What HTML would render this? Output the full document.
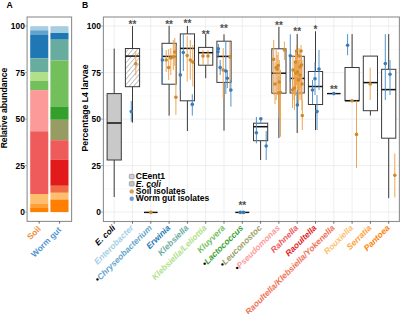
<!DOCTYPE html>
<html><head><meta charset="utf-8"><style>
html,body{margin:0;padding:0;background:#fff;overflow:hidden;width:400px;height:314px;}
svg{display:block;font-family:"Liberation Sans", sans-serif;}
</style></head><body>
<svg width="400" height="314" viewBox="0 0 400 314">
<rect width="400" height="314" fill="#fff"/>
<text x="6.5" y="7.6" font-size="8.6" font-weight="bold">A</text>
<text transform="translate(6.6,108) rotate(-90)" text-anchor="middle" font-size="8.6" font-weight="bold">Relative abundance</text>
<text x="24.8" y="215.10" text-anchor="end" font-size="8.4" font-weight="bold">0</text>
<line x1="25" y1="212.10" x2="27" y2="212.10" stroke="#777" stroke-width="0.6"/>
<text x="24.8" y="168.60" text-anchor="end" font-size="8.4" font-weight="bold">25</text>
<line x1="25" y1="165.60" x2="27" y2="165.60" stroke="#777" stroke-width="0.6"/>
<text x="24.8" y="122.10" text-anchor="end" font-size="8.4" font-weight="bold">50</text>
<line x1="25" y1="119.10" x2="27" y2="119.10" stroke="#777" stroke-width="0.6"/>
<text x="24.8" y="75.60" text-anchor="end" font-size="8.4" font-weight="bold">75</text>
<line x1="25" y1="72.60" x2="27" y2="72.60" stroke="#777" stroke-width="0.6"/>
<text x="24.8" y="29.10" text-anchor="end" font-size="8.4" font-weight="bold">100</text>
<line x1="25" y1="26.10" x2="27" y2="26.10" stroke="#777" stroke-width="0.6"/>
<rect x="30.2" y="26.2" width="18.1" height="4.10" fill="#a6cee3"/>
<rect x="30.2" y="30.3" width="18.1" height="4.70" fill="#62a3cb"/>
<rect x="30.2" y="35.0" width="18.1" height="23.30" fill="#1f78b4"/>
<rect x="30.2" y="58.3" width="18.1" height="13.70" fill="#68ab9f"/>
<rect x="30.2" y="72.0" width="18.1" height="9.00" fill="#b2df8a"/>
<rect x="30.2" y="81.0" width="18.1" height="9.10" fill="#72bf5b"/>
<rect x="30.2" y="90.1" width="18.1" height="41.20" fill="#fb9a99"/>
<rect x="30.2" y="131.3" width="18.1" height="62.70" fill="#ef5a5a"/>
<rect x="30.2" y="194.0" width="18.1" height="10.00" fill="#fdbf6f"/>
<rect x="30.2" y="204.0" width="18.1" height="4.00" fill="#fe9f37"/>
<rect x="30.2" y="208.0" width="18.1" height="4.10" fill="#ff7f00"/>
<rect x="50.4" y="26.2" width="18.1" height="6.80" fill="#a6cee3"/>
<rect x="50.4" y="33.0" width="18.1" height="6.70" fill="#1f78b4"/>
<rect x="50.4" y="39.7" width="18.1" height="20.70" fill="#68ab9f"/>
<rect x="50.4" y="60.4" width="18.1" height="46.10" fill="#72bf5b"/>
<rect x="50.4" y="106.5" width="18.1" height="13.30" fill="#33a02c"/>
<rect x="50.4" y="119.8" width="18.1" height="20.40" fill="#979d62"/>
<rect x="50.4" y="140.2" width="18.1" height="19.60" fill="#ef5a5a"/>
<rect x="50.4" y="159.8" width="18.1" height="26.00" fill="#e31a1c"/>
<rect x="50.4" y="185.8" width="18.1" height="7.00" fill="#f06c45"/>
<rect x="50.4" y="192.8" width="18.1" height="6.70" fill="#fdbf6f"/>
<rect x="50.4" y="199.5" width="18.1" height="12.60" fill="#ff7f00"/>
<rect x="27.1" y="17" width="44.5" height="204.4" fill="none" stroke="#8f8f8f" stroke-width="1.1"/>
<line x1="39.2" y1="221.4" x2="39.2" y2="223.6" stroke="#444" stroke-width="0.8"/>
<line x1="59.6" y1="221.4" x2="59.6" y2="223.6" stroke="#444" stroke-width="0.8"/>
<text transform="translate(41.3,229.6) rotate(-45)" text-anchor="end" font-size="8.3" font-weight="bold" fill="#ec8d38">Soil</text>
<text transform="translate(61.8,230.4) rotate(-45)" text-anchor="end" font-size="8.3" font-weight="bold" fill="#4f95d0">Worm gut</text>
<text x="82" y="7.6" font-size="8.6" font-weight="bold">B</text>
<text transform="translate(87.9,108) rotate(-90)" text-anchor="middle" font-size="8.7" font-weight="bold">Percentage L4 larvae</text>
<line x1="103.4" y1="188.85" x2="399.4" y2="188.85" stroke="#f2f2f2" stroke-width="0.5"/>
<line x1="103.4" y1="142.35" x2="399.4" y2="142.35" stroke="#f2f2f2" stroke-width="0.5"/>
<line x1="103.4" y1="95.85" x2="399.4" y2="95.85" stroke="#f2f2f2" stroke-width="0.5"/>
<line x1="103.4" y1="49.35" x2="399.4" y2="49.35" stroke="#f2f2f2" stroke-width="0.5"/>
<line x1="103.4" y1="212.10" x2="399.4" y2="212.10" stroke="#e8e8e8" stroke-width="0.7"/>
<line x1="103.4" y1="165.60" x2="399.4" y2="165.60" stroke="#e8e8e8" stroke-width="0.7"/>
<line x1="103.4" y1="119.10" x2="399.4" y2="119.10" stroke="#e8e8e8" stroke-width="0.7"/>
<line x1="103.4" y1="72.60" x2="399.4" y2="72.60" stroke="#e8e8e8" stroke-width="0.7"/>
<line x1="103.4" y1="26.10" x2="399.4" y2="26.10" stroke="#e8e8e8" stroke-width="0.7"/>
<line x1="114.20" y1="17" x2="114.20" y2="221.5" stroke="#e8e8e8" stroke-width="0.7"/>
<line x1="132.50" y1="17" x2="132.50" y2="221.5" stroke="#e8e8e8" stroke-width="0.7"/>
<line x1="150.80" y1="17" x2="150.80" y2="221.5" stroke="#e8e8e8" stroke-width="0.7"/>
<line x1="169.10" y1="17" x2="169.10" y2="221.5" stroke="#e8e8e8" stroke-width="0.7"/>
<line x1="187.40" y1="17" x2="187.40" y2="221.5" stroke="#e8e8e8" stroke-width="0.7"/>
<line x1="205.70" y1="17" x2="205.70" y2="221.5" stroke="#e8e8e8" stroke-width="0.7"/>
<line x1="224.00" y1="17" x2="224.00" y2="221.5" stroke="#e8e8e8" stroke-width="0.7"/>
<line x1="242.30" y1="17" x2="242.30" y2="221.5" stroke="#e8e8e8" stroke-width="0.7"/>
<line x1="260.60" y1="17" x2="260.60" y2="221.5" stroke="#e8e8e8" stroke-width="0.7"/>
<line x1="278.90" y1="17" x2="278.90" y2="221.5" stroke="#e8e8e8" stroke-width="0.7"/>
<line x1="297.20" y1="17" x2="297.20" y2="221.5" stroke="#e8e8e8" stroke-width="0.7"/>
<line x1="315.50" y1="17" x2="315.50" y2="221.5" stroke="#e8e8e8" stroke-width="0.7"/>
<line x1="333.80" y1="17" x2="333.80" y2="221.5" stroke="#e8e8e8" stroke-width="0.7"/>
<line x1="352.10" y1="17" x2="352.10" y2="221.5" stroke="#e8e8e8" stroke-width="0.7"/>
<line x1="370.40" y1="17" x2="370.40" y2="221.5" stroke="#e8e8e8" stroke-width="0.7"/>
<line x1="388.70" y1="17" x2="388.70" y2="221.5" stroke="#e8e8e8" stroke-width="0.7"/>
<text x="100.8" y="215.10" text-anchor="end" font-size="8.4" font-weight="bold">0</text>
<line x1="101" y1="212.10" x2="103" y2="212.10" stroke="#777" stroke-width="0.6"/>
<text x="100.8" y="168.60" text-anchor="end" font-size="8.4" font-weight="bold">25</text>
<line x1="101" y1="165.60" x2="103" y2="165.60" stroke="#777" stroke-width="0.6"/>
<text x="100.8" y="122.10" text-anchor="end" font-size="8.4" font-weight="bold">50</text>
<line x1="101" y1="119.10" x2="103" y2="119.10" stroke="#777" stroke-width="0.6"/>
<text x="100.8" y="75.60" text-anchor="end" font-size="8.4" font-weight="bold">75</text>
<line x1="101" y1="72.60" x2="103" y2="72.60" stroke="#777" stroke-width="0.6"/>
<text x="100.8" y="29.10" text-anchor="end" font-size="8.4" font-weight="bold">100</text>
<line x1="101" y1="26.10" x2="103" y2="26.10" stroke="#777" stroke-width="0.6"/>
<defs><pattern id="hatch" patternUnits="userSpaceOnUse" width="3.5" height="5" patternTransform="rotate(40)"><line x1="0" y1="0" x2="0" y2="5" stroke="#4a4a4a" stroke-width="0.7"/></pattern></defs>
<line x1="114.20" y1="48.6" x2="114.20" y2="93.6" stroke="#3a3a3a" stroke-width="1.0"/>
<line x1="114.20" y1="160.0" x2="114.20" y2="197.0" stroke="#3a3a3a" stroke-width="1.0"/>
<rect x="107.10" y="93.6" width="14.2" height="66.40" fill="#c9c9c9" stroke="#3a3a3a" stroke-width="1.0"/>
<line x1="107.10" y1="123.0" x2="121.30" y2="123.0" stroke="#111" stroke-width="1.5"/>
<line x1="132.50" y1="26.1" x2="132.50" y2="48.5" stroke="#3a3a3a" stroke-width="1.0"/>
<line x1="132.50" y1="86.7" x2="132.50" y2="122.6" stroke="#3a3a3a" stroke-width="1.0"/>
<rect x="125.40" y="48.5" width="14.2" height="38.20" fill="#fff" stroke="#3a3a3a" stroke-width="1.0"/>
<rect x="125.40" y="48.5" width="14.2" height="38.20" fill="url(#hatch)"/>
<line x1="125.40" y1="56.1" x2="139.60" y2="56.1" stroke="#111" stroke-width="1.5"/>
<text x="132.50" y="28.40" text-anchor="middle" font-size="10" font-weight="bold" fill="#505050">**</text>
<line x1="144.00" y1="212.4" x2="157.60" y2="212.4" stroke="#111" stroke-width="1.4"/>
<line x1="169.10" y1="25.8" x2="169.10" y2="43.3" stroke="#3a3a3a" stroke-width="1.0"/>
<line x1="169.10" y1="84.2" x2="169.10" y2="115.6" stroke="#3a3a3a" stroke-width="1.0"/>
<rect x="162.00" y="43.3" width="14.2" height="40.90" fill="#fff" stroke="#3a3a3a" stroke-width="1.0"/>
<line x1="162.00" y1="56.4" x2="176.20" y2="56.4" stroke="#111" stroke-width="1.5"/>
<text x="169.10" y="28.40" text-anchor="middle" font-size="10" font-weight="bold" fill="#505050">**</text>
<line x1="187.40" y1="26.0" x2="187.40" y2="33.9" stroke="#3a3a3a" stroke-width="1.0"/>
<line x1="187.40" y1="100.8" x2="187.40" y2="131.0" stroke="#3a3a3a" stroke-width="1.0"/>
<rect x="180.30" y="33.9" width="14.2" height="66.90" fill="#fff" stroke="#3a3a3a" stroke-width="1.0"/>
<line x1="180.30" y1="48.4" x2="194.50" y2="48.4" stroke="#111" stroke-width="1.5"/>
<text x="187.40" y="27.40" text-anchor="middle" font-size="10" font-weight="bold" fill="#505050">**</text>
<line x1="205.70" y1="34.1" x2="205.70" y2="47.4" stroke="#3a3a3a" stroke-width="1.0"/>
<line x1="205.70" y1="65.2" x2="205.70" y2="78.2" stroke="#3a3a3a" stroke-width="1.0"/>
<rect x="198.60" y="47.4" width="14.2" height="17.80" fill="#fff" stroke="#3a3a3a" stroke-width="1.0"/>
<line x1="198.60" y1="52.7" x2="212.80" y2="52.7" stroke="#111" stroke-width="1.5"/>
<text x="205.70" y="37.60" text-anchor="middle" font-size="10" font-weight="bold" fill="#505050">**</text>
<line x1="224.00" y1="34.4" x2="224.00" y2="41.2" stroke="#3a3a3a" stroke-width="1.0"/>
<line x1="224.00" y1="82.4" x2="224.00" y2="130.7" stroke="#3a3a3a" stroke-width="1.0"/>
<rect x="216.90" y="41.2" width="14.2" height="41.20" fill="#fff" stroke="#3a3a3a" stroke-width="1.0"/>
<line x1="216.90" y1="56.4" x2="231.10" y2="56.4" stroke="#111" stroke-width="1.5"/>
<text x="224.00" y="32.30" text-anchor="middle" font-size="10" font-weight="bold" fill="#505050">**</text>
<line x1="235.30" y1="212.4" x2="249.30" y2="212.4" stroke="#111" stroke-width="1.4"/>
<text x="242.30" y="209.40" text-anchor="middle" font-size="10" font-weight="bold" fill="#505050">**</text>
<line x1="260.60" y1="140.7" x2="260.60" y2="160.0" stroke="#3a3a3a" stroke-width="1.0"/>
<rect x="253.50" y="123.2" width="14.2" height="17.50" fill="#fff" stroke="#3a3a3a" stroke-width="1.0"/>
<line x1="253.50" y1="126.7" x2="267.70" y2="126.7" stroke="#111" stroke-width="1.5"/>
<line x1="278.90" y1="26.9" x2="278.90" y2="48.8" stroke="#3a3a3a" stroke-width="1.0"/>
<line x1="278.90" y1="93.2" x2="278.90" y2="137.9" stroke="#3a3a3a" stroke-width="1.0"/>
<rect x="271.80" y="48.8" width="14.2" height="44.40" fill="#fff" stroke="#3a3a3a" stroke-width="1.0"/>
<line x1="271.80" y1="73.2" x2="286.00" y2="73.2" stroke="#111" stroke-width="1.5"/>
<text x="278.90" y="29.20" text-anchor="middle" font-size="10" font-weight="bold" fill="#505050">**</text>
<line x1="297.20" y1="34.0" x2="297.20" y2="56.3" stroke="#3a3a3a" stroke-width="1.0"/>
<line x1="297.20" y1="93.0" x2="297.20" y2="133.0" stroke="#3a3a3a" stroke-width="1.0"/>
<rect x="290.10" y="56.3" width="14.2" height="36.70" fill="#fff" stroke="#3a3a3a" stroke-width="1.0"/>
<line x1="290.10" y1="78.4" x2="304.30" y2="78.4" stroke="#111" stroke-width="1.5"/>
<text x="297.20" y="35.00" text-anchor="middle" font-size="10" font-weight="bold" fill="#505050">**</text>
<line x1="315.50" y1="31.3" x2="315.50" y2="71.5" stroke="#3a3a3a" stroke-width="1.0"/>
<line x1="315.50" y1="104.5" x2="315.50" y2="130.0" stroke="#3a3a3a" stroke-width="1.0"/>
<rect x="308.40" y="71.5" width="14.2" height="33.00" fill="#fff" stroke="#3a3a3a" stroke-width="1.0"/>
<line x1="308.40" y1="86.5" x2="322.60" y2="86.5" stroke="#111" stroke-width="1.5"/>
<text x="315.50" y="33.10" text-anchor="middle" font-size="10" font-weight="bold" fill="#505050">*</text>
<line x1="327.00" y1="93.6" x2="340.60" y2="93.6" stroke="#111" stroke-width="1.4"/>
<text x="333.80" y="92.90" text-anchor="middle" font-size="10" font-weight="bold" fill="#505050">**</text>
<line x1="352.10" y1="34.1" x2="352.10" y2="67.5" stroke="#3a3a3a" stroke-width="1.0"/>
<rect x="345.00" y="67.5" width="14.2" height="33.20" fill="#fff" stroke="#3a3a3a" stroke-width="1.0"/>
<line x1="345.00" y1="100.7" x2="359.20" y2="100.7" stroke="#111" stroke-width="1.5"/>
<line x1="370.40" y1="110.7" x2="370.40" y2="115.5" stroke="#3a3a3a" stroke-width="1.0"/>
<rect x="363.30" y="56.1" width="14.2" height="54.60" fill="#fff" stroke="#3a3a3a" stroke-width="1.0"/>
<line x1="363.30" y1="82.6" x2="377.50" y2="82.6" stroke="#111" stroke-width="1.5"/>
<line x1="388.70" y1="34.1" x2="388.70" y2="69.3" stroke="#3a3a3a" stroke-width="1.0"/>
<line x1="388.70" y1="138.2" x2="388.70" y2="198.2" stroke="#3a3a3a" stroke-width="1.0"/>
<rect x="381.60" y="69.3" width="14.2" height="68.90" fill="#fff" stroke="#3a3a3a" stroke-width="1.0"/>
<line x1="381.60" y1="89.6" x2="395.80" y2="89.6" stroke="#111" stroke-width="1.5"/>
<line x1="135.8" y1="51.4" x2="135.8" y2="75.3" stroke="#eba24e" stroke-width="0.95"/>
<line x1="131.3" y1="101" x2="131.3" y2="121.8" stroke="#4b8cc6" stroke-width="0.95"/>
<line x1="162.4" y1="48" x2="162.4" y2="84" stroke="#4b8cc6" stroke-width="0.95"/>
<line x1="166.2" y1="50" x2="166.2" y2="72" stroke="#eba24e" stroke-width="0.95"/>
<line x1="168.7" y1="49" x2="168.7" y2="80" stroke="#eba24e" stroke-width="0.95"/>
<line x1="170.8" y1="48" x2="170.8" y2="75" stroke="#eba24e" stroke-width="0.95"/>
<line x1="173.3" y1="40" x2="173.3" y2="70" stroke="#eba24e" stroke-width="0.95"/>
<line x1="174.8" y1="38" x2="174.8" y2="66" stroke="#eba24e" stroke-width="0.95"/>
<line x1="175.9" y1="46" x2="175.9" y2="114.8" stroke="#eba24e" stroke-width="0.95"/>
<line x1="183.3" y1="34" x2="183.3" y2="71" stroke="#4b8cc6" stroke-width="0.95"/>
<line x1="180.3" y1="50" x2="180.3" y2="90" stroke="#4b8cc6" stroke-width="0.95"/>
<line x1="187.2" y1="36" x2="187.2" y2="81.5" stroke="#eba24e" stroke-width="0.95"/>
<line x1="190.3" y1="40" x2="190.3" y2="79.5" stroke="#eba24e" stroke-width="0.95"/>
<line x1="192.8" y1="45" x2="192.8" y2="86.6" stroke="#eba24e" stroke-width="0.95"/>
<line x1="192.3" y1="94.2" x2="192.3" y2="115.6" stroke="#4b8cc6" stroke-width="0.95"/>
<line x1="203.0" y1="50" x2="203.0" y2="65" stroke="#eba24e" stroke-width="0.95"/>
<line x1="208.0" y1="50" x2="208.0" y2="65" stroke="#eba24e" stroke-width="0.95"/>
<line x1="223.2" y1="48" x2="223.2" y2="98" stroke="#eba24e" stroke-width="0.95"/>
<line x1="229.9" y1="42" x2="229.9" y2="92" stroke="#eba24e" stroke-width="0.95"/>
<line x1="218.4" y1="44" x2="218.4" y2="56" stroke="#4b8cc6" stroke-width="0.95"/>
<line x1="218.0" y1="47" x2="218.0" y2="58" stroke="#4b8cc6" stroke-width="0.95"/>
<line x1="225.8" y1="41" x2="225.8" y2="94" stroke="#4b8cc6" stroke-width="0.95"/>
<line x1="220.2" y1="60" x2="220.2" y2="75" stroke="#4b8cc6" stroke-width="0.95"/>
<line x1="227.3" y1="70" x2="227.3" y2="88" stroke="#4b8cc6" stroke-width="0.95"/>
<line x1="230.9" y1="80" x2="230.9" y2="106.6" stroke="#4b8cc6" stroke-width="0.95"/>
<line x1="256.4" y1="117" x2="256.4" y2="143.3" stroke="#4b8cc6" stroke-width="0.95"/>
<line x1="260.8" y1="118" x2="260.8" y2="124" stroke="#4b8cc6" stroke-width="0.95"/>
<line x1="266.2" y1="131" x2="266.2" y2="160" stroke="#4b8cc6" stroke-width="0.95"/>
<line x1="273.7" y1="40" x2="273.7" y2="95" stroke="#eba24e" stroke-width="0.95"/>
<line x1="276.2" y1="50" x2="276.2" y2="100" stroke="#eba24e" stroke-width="0.95"/>
<line x1="277.2" y1="55" x2="277.2" y2="95" stroke="#eba24e" stroke-width="0.95"/>
<line x1="278.2" y1="52" x2="278.2" y2="90" stroke="#eba24e" stroke-width="0.95"/>
<line x1="279.3" y1="60" x2="279.3" y2="110" stroke="#eba24e" stroke-width="0.95"/>
<line x1="280.5" y1="70" x2="280.5" y2="136.7" stroke="#eba24e" stroke-width="0.95"/>
<line x1="284.4" y1="41.6" x2="284.4" y2="60" stroke="#eba24e" stroke-width="0.95"/>
<line x1="275.0" y1="62" x2="275.0" y2="104" stroke="#eba24e" stroke-width="0.95"/>
<line x1="278.8" y1="76" x2="278.8" y2="118" stroke="#eba24e" stroke-width="0.95"/>
<line x1="290.3" y1="34.3" x2="290.3" y2="82" stroke="#4b8cc6" stroke-width="0.95"/>
<line x1="293.0" y1="55" x2="293.0" y2="100" stroke="#eba24e" stroke-width="0.95"/>
<line x1="294.5" y1="62" x2="294.5" y2="110" stroke="#eba24e" stroke-width="0.95"/>
<line x1="295.5" y1="50" x2="295.5" y2="95" stroke="#eba24e" stroke-width="0.95"/>
<line x1="296.5" y1="45" x2="296.5" y2="85" stroke="#eba24e" stroke-width="0.95"/>
<line x1="297.5" y1="55" x2="297.5" y2="100" stroke="#eba24e" stroke-width="0.95"/>
<line x1="298.5" y1="60" x2="298.5" y2="105" stroke="#eba24e" stroke-width="0.95"/>
<line x1="299.0" y1="48" x2="299.0" y2="90" stroke="#eba24e" stroke-width="0.95"/>
<line x1="300.0" y1="50" x2="300.0" y2="95" stroke="#eba24e" stroke-width="0.95"/>
<line x1="301.0" y1="45" x2="301.0" y2="88" stroke="#eba24e" stroke-width="0.95"/>
<line x1="301.5" y1="55" x2="301.5" y2="100" stroke="#eba24e" stroke-width="0.95"/>
<line x1="302.0" y1="60" x2="302.0" y2="110" stroke="#eba24e" stroke-width="0.95"/>
<line x1="300.0" y1="60" x2="300.0" y2="100" stroke="#eba24e" stroke-width="0.95"/>
<line x1="292.5" y1="70" x2="292.5" y2="108" stroke="#eba24e" stroke-width="0.95"/>
<line x1="296.0" y1="58" x2="296.0" y2="96" stroke="#eba24e" stroke-width="0.95"/>
<line x1="297.4" y1="90" x2="297.4" y2="120" stroke="#4b8cc6" stroke-width="0.95"/>
<line x1="302.3" y1="100" x2="302.3" y2="130" stroke="#eba24e" stroke-width="0.95"/>
<line x1="319.0" y1="50" x2="319.0" y2="90" stroke="#4b8cc6" stroke-width="0.95"/>
<line x1="315.0" y1="62" x2="315.0" y2="95" stroke="#4b8cc6" stroke-width="0.95"/>
<line x1="312.5" y1="80" x2="312.5" y2="104" stroke="#4b8cc6" stroke-width="0.95"/>
<line x1="317.0" y1="95" x2="317.0" y2="130" stroke="#4b8cc6" stroke-width="0.95"/>
<line x1="347.6" y1="34.1" x2="347.6" y2="55.2" stroke="#4b8cc6" stroke-width="0.95"/>
<line x1="356.5" y1="100.7" x2="356.5" y2="168" stroke="#eba24e" stroke-width="0.95"/>
<line x1="370.2" y1="67.6" x2="370.2" y2="100" stroke="#eba24e" stroke-width="0.95"/>
<line x1="385.3" y1="34.1" x2="385.3" y2="100" stroke="#4b8cc6" stroke-width="0.95"/>
<line x1="390.0" y1="60" x2="390.0" y2="95" stroke="#4b8cc6" stroke-width="0.95"/>
<line x1="394.8" y1="153.5" x2="394.8" y2="197.4" stroke="#eba24e" stroke-width="0.95"/>
<circle cx="135.8" cy="63.8" r="1.8" fill="#d08a2c"/>
<circle cx="131.3" cy="111.5" r="1.8" fill="#3a7cb8"/>
<circle cx="150.8" cy="212.4" r="1.8" fill="#d08a2c"/>
<circle cx="162.4" cy="60" r="1.8" fill="#3a7cb8"/>
<circle cx="166.2" cy="60" r="1.8" fill="#d08a2c"/>
<circle cx="168.7" cy="67.6" r="1.8" fill="#d08a2c"/>
<circle cx="170.8" cy="58" r="1.8" fill="#d08a2c"/>
<circle cx="173.3" cy="57" r="1.8" fill="#d08a2c"/>
<circle cx="174.8" cy="52" r="1.8" fill="#d08a2c"/>
<circle cx="175.9" cy="97.3" r="1.8" fill="#d08a2c"/>
<circle cx="183.3" cy="52.5" r="1.8" fill="#3a7cb8"/>
<circle cx="180.3" cy="74.9" r="1.8" fill="#3a7cb8"/>
<circle cx="187.2" cy="55.6" r="1.8" fill="#d08a2c"/>
<circle cx="190.3" cy="60" r="1.8" fill="#d08a2c"/>
<circle cx="192.8" cy="62.1" r="1.8" fill="#d08a2c"/>
<circle cx="192.3" cy="104.4" r="1.8" fill="#3a7cb8"/>
<circle cx="203.0" cy="56.0" r="1.8" fill="#d08a2c"/>
<circle cx="208.0" cy="56.0" r="1.8" fill="#d08a2c"/>
<circle cx="223.2" cy="70" r="1.8" fill="#d08a2c"/>
<circle cx="229.9" cy="57" r="1.8" fill="#d08a2c"/>
<circle cx="218.4" cy="48.8" r="1.8" fill="#3a7cb8"/>
<circle cx="218.0" cy="51.8" r="1.8" fill="#3a7cb8"/>
<circle cx="225.8" cy="71.1" r="1.8" fill="#3a7cb8"/>
<circle cx="220.2" cy="67.6" r="1.8" fill="#3a7cb8"/>
<circle cx="227.3" cy="78.3" r="1.8" fill="#3a7cb8"/>
<circle cx="230.9" cy="90" r="1.8" fill="#3a7cb8"/>
<circle cx="240.3" cy="212.4" r="1.8" fill="#3a7cb8"/>
<circle cx="243.5" cy="212.4" r="1.8" fill="#3a7cb8"/>
<circle cx="256.4" cy="132.8" r="1.8" fill="#3a7cb8"/>
<circle cx="260.8" cy="118.8" r="1.8" fill="#3a7cb8"/>
<circle cx="266.2" cy="146.0" r="1.8" fill="#3a7cb8"/>
<circle cx="273.7" cy="59.4" r="1.8" fill="#d08a2c"/>
<circle cx="276.2" cy="67.6" r="1.8" fill="#d08a2c"/>
<circle cx="277.2" cy="69.1" r="1.8" fill="#d08a2c"/>
<circle cx="278.2" cy="65.5" r="1.8" fill="#d08a2c"/>
<circle cx="279.3" cy="82" r="1.8" fill="#d08a2c"/>
<circle cx="280.5" cy="92.6" r="1.8" fill="#d08a2c"/>
<circle cx="284.4" cy="50" r="1.8" fill="#d08a2c"/>
<circle cx="275.0" cy="84" r="1.8" fill="#d08a2c"/>
<circle cx="278.8" cy="92.8" r="1.8" fill="#d08a2c"/>
<circle cx="290.3" cy="55.8" r="1.8" fill="#3a7cb8"/>
<circle cx="293.0" cy="70" r="1.8" fill="#d08a2c"/>
<circle cx="294.5" cy="88" r="1.8" fill="#d08a2c"/>
<circle cx="295.5" cy="62" r="1.8" fill="#d08a2c"/>
<circle cx="296.5" cy="51" r="1.8" fill="#d08a2c"/>
<circle cx="297.5" cy="72" r="1.8" fill="#d08a2c"/>
<circle cx="298.5" cy="80" r="1.8" fill="#d08a2c"/>
<circle cx="299.0" cy="56" r="1.8" fill="#d08a2c"/>
<circle cx="300.0" cy="67" r="1.8" fill="#d08a2c"/>
<circle cx="301.0" cy="51" r="1.8" fill="#d08a2c"/>
<circle cx="301.5" cy="65" r="1.8" fill="#d08a2c"/>
<circle cx="302.0" cy="84" r="1.8" fill="#d08a2c"/>
<circle cx="300.0" cy="75" r="1.8" fill="#d08a2c"/>
<circle cx="292.5" cy="90" r="1.8" fill="#d08a2c"/>
<circle cx="296.0" cy="73" r="1.8" fill="#d08a2c"/>
<circle cx="297.4" cy="105" r="1.8" fill="#3a7cb8"/>
<circle cx="302.3" cy="115.6" r="1.8" fill="#d08a2c"/>
<circle cx="319.0" cy="69" r="1.8" fill="#3a7cb8"/>
<circle cx="315.0" cy="78.7" r="1.8" fill="#3a7cb8"/>
<circle cx="312.5" cy="90" r="1.8" fill="#3a7cb8"/>
<circle cx="317.0" cy="111.6" r="1.8" fill="#3a7cb8"/>
<circle cx="333.8" cy="93.6" r="1.8" fill="#3a7cb8"/>
<circle cx="347.6" cy="45.2" r="1.8" fill="#3a7cb8"/>
<circle cx="352.0" cy="100.7" r="1.8" fill="#d08a2c"/>
<circle cx="356.5" cy="134.4" r="1.8" fill="#d08a2c"/>
<circle cx="370.2" cy="84" r="1.8" fill="#d08a2c"/>
<circle cx="385.3" cy="63.6" r="1.8" fill="#3a7cb8"/>
<circle cx="390.0" cy="74.3" r="1.8" fill="#3a7cb8"/>
<circle cx="394.8" cy="175.3" r="1.8" fill="#d08a2c"/>
<rect x="103.4" y="17" width="296.00" height="204.50" fill="none" stroke="#8f8f8f" stroke-width="1.1"/>
<line x1="114.20" y1="221.5" x2="114.20" y2="223.7" stroke="#444" stroke-width="0.8"/>
<line x1="132.50" y1="221.5" x2="132.50" y2="223.7" stroke="#444" stroke-width="0.8"/>
<line x1="150.80" y1="221.5" x2="150.80" y2="223.7" stroke="#444" stroke-width="0.8"/>
<line x1="169.10" y1="221.5" x2="169.10" y2="223.7" stroke="#444" stroke-width="0.8"/>
<line x1="187.40" y1="221.5" x2="187.40" y2="223.7" stroke="#444" stroke-width="0.8"/>
<line x1="205.70" y1="221.5" x2="205.70" y2="223.7" stroke="#444" stroke-width="0.8"/>
<line x1="224.00" y1="221.5" x2="224.00" y2="223.7" stroke="#444" stroke-width="0.8"/>
<line x1="242.30" y1="221.5" x2="242.30" y2="223.7" stroke="#444" stroke-width="0.8"/>
<line x1="260.60" y1="221.5" x2="260.60" y2="223.7" stroke="#444" stroke-width="0.8"/>
<line x1="278.90" y1="221.5" x2="278.90" y2="223.7" stroke="#444" stroke-width="0.8"/>
<line x1="297.20" y1="221.5" x2="297.20" y2="223.7" stroke="#444" stroke-width="0.8"/>
<line x1="315.50" y1="221.5" x2="315.50" y2="223.7" stroke="#444" stroke-width="0.8"/>
<line x1="333.80" y1="221.5" x2="333.80" y2="223.7" stroke="#444" stroke-width="0.8"/>
<line x1="352.10" y1="221.5" x2="352.10" y2="223.7" stroke="#444" stroke-width="0.8"/>
<line x1="370.40" y1="221.5" x2="370.40" y2="223.7" stroke="#444" stroke-width="0.8"/>
<line x1="388.70" y1="221.5" x2="388.70" y2="223.7" stroke="#444" stroke-width="0.8"/>
<rect x="129.3" y="174.3" width="4.8" height="4.4" rx="0.8" fill="#cfcfcf" stroke="#999" stroke-width="0.8"/>
<text x="135.8" y="179.20000000000002" font-size="8.5" font-weight="bold">CEent1</text>
<rect x="129.3" y="181.6" width="4.8" height="4.4" rx="0.8" fill="#c4c4c4" stroke="#999" stroke-width="0.8"/>
<text x="135.8" y="186.5" font-size="8.5" font-weight="bold" font-style="italic">E. coli</text>
<circle cx="131.7" cy="191.4" r="2.2" fill="#d4a062"/>
<text x="135.8" y="193.8" font-size="8.5" font-weight="bold">Soil isolates</text>
<circle cx="131.7" cy="198.7" r="2.2" fill="#6f9ad0"/>
<text x="135.8" y="201.1" font-size="8.5" font-weight="bold">Worm gut isolates</text>
<text transform="translate(115.80,228.5) rotate(-45)" text-anchor="end" font-size="8.4" font-weight="bold" fill="#000" font-style="italic">E. coli</text>
<text transform="translate(134.10,228.5) rotate(-45)" text-anchor="end" font-size="8.4" font-weight="bold" fill="#a6cee3" font-style="italic">Enterobacter</text>
<text transform="translate(152.40,228.5) rotate(-45)" text-anchor="end" font-size="8.4" font-weight="bold" fill="#62a3cb" font-style="italic"><tspan fill="#000">•</tspan>Chryseobacterium</text>
<text transform="translate(170.70,228.5) rotate(-45)" text-anchor="end" font-size="8.4" font-weight="bold" fill="#1f78b4" font-style="italic">Erwinia</text>
<text transform="translate(189.00,228.5) rotate(-45)" text-anchor="end" font-size="8.4" font-weight="bold" fill="#68ab9f" font-style="italic">Klebsiella</text>
<text transform="translate(207.30,228.5) rotate(-45)" text-anchor="end" font-size="8.4" font-weight="bold" fill="#b2df8a" font-style="italic">Klebsiella/Leliottia</text>
<text transform="translate(225.60,228.5) rotate(-45)" text-anchor="end" font-size="8.4" font-weight="bold" fill="#72bf5b" font-style="italic">Kluyvera</text>
<text transform="translate(243.90,228.5) rotate(-45)" text-anchor="end" font-size="8.4" font-weight="bold" fill="#33a02c" font-style="italic"><tspan fill="#000">•</tspan>Lactococcus</text>
<text transform="translate(262.20,228.5) rotate(-45)" text-anchor="end" font-size="8.4" font-weight="bold" fill="#979d62" font-style="italic"><tspan fill="#000">•</tspan>Leuconostoc</text>
<text transform="translate(280.50,228.5) rotate(-45)" text-anchor="end" font-size="8.4" font-weight="bold" fill="#fb9a99" font-style="italic"><tspan fill="#000">•</tspan>Pseudomonas</text>
<text transform="translate(298.80,228.5) rotate(-45)" text-anchor="end" font-size="8.4" font-weight="bold" fill="#ef5a5a" font-style="italic">Rahnella</text>
<text transform="translate(317.10,228.5) rotate(-45)" text-anchor="end" font-size="8.4" font-weight="bold" fill="#e31a1c" font-style="italic">Raoultella</text>
<text transform="translate(335.40,228.5) rotate(-45)" text-anchor="end" font-size="8.4" font-weight="bold" fill="#ef7055" font-style="italic">Raoultella/Klebsiella/Yokenella</text>
<text transform="translate(353.70,228.5) rotate(-45)" text-anchor="end" font-size="8.4" font-weight="bold" fill="#fdbf6f" font-style="italic">Rouxiella</text>
<text transform="translate(372.00,228.5) rotate(-45)" text-anchor="end" font-size="8.4" font-weight="bold" fill="#fe9f37" font-style="italic">Serratia</text>
<text transform="translate(390.30,228.5) rotate(-45)" text-anchor="end" font-size="8.4" font-weight="bold" fill="#ff7f00" font-style="italic">Pantoea</text>
</svg>
</body></html>
